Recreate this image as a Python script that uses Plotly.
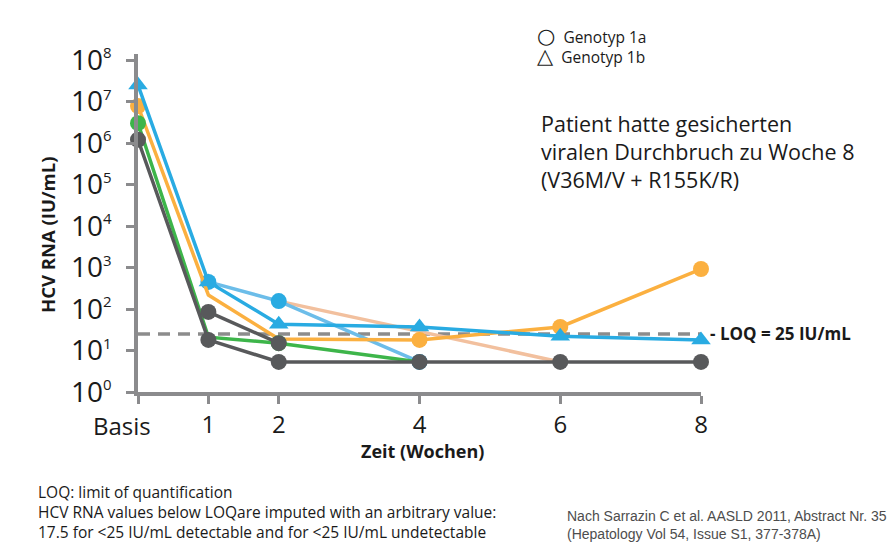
import math
import plotly.graph_objects as go

# ---------------- data ----------------
weeks = [0, 1, 2, 4, 6, 8]
x_tick_labels = ["Basis", "1", "2", "4", "6", "8"]
y_exponents = [0, 1, 2, 3, 4, 5, 6, 7, 8]

blue_1b = [2.5e7, 450, 43, 37, 22, 18]          # Genotyp 1b (triangles)
orange_1a = [7.8e6, 218, 19, 18, 37, 920]       # breakthrough patient
green_1a = [3.0e6, 21, 15, 5.3, None, None]
gray_a_1a = [1.2e6, 18, 5.3, 5.3, 5.3, 5.3]
gray_b_1a = [None, 85, 15, None, None, None]
lightblue_1a = [None, 450, 155, 5.3, None, None]
peach_1a = [None, None, 155, None, 5.3, None]
loq_value = 25
legend_labels = ["Genotyp 1a", "Genotyp 1b"]
legend_symbols = ["○", "△"]

# ---------------- layout helpers ----------------
W, H = 890, 543
L, R, T, B = 138, 701, 54, 392
def px_x(px):
    return (px - L) / (R - L)
def px_y(py):
    return (B - py) / (B - T)

FONT = "Open Sans"
AX = "#8b8b8d"
TXT = "#1a1a1a"

fig = go.Figure()

# LOQ dashed line
fig.add_trace(go.Scatter(x=[weeks[0], weeks[-1]], y=[loq_value, loq_value], mode="lines",
                         line=dict(color="#8c8c8c", width=3.5, dash="12px,8px"),
                         showlegend=False, hoverinfo="skip", cliponaxis=False))

def add_series(vals, color, sizes, symbol="circle", line_color=None, mode="lines+markers", gaps=False):
    fig.add_trace(go.Scatter(
        x=weeks, y=vals, mode=mode, connectgaps=gaps,
        line=dict(color=line_color or color, width=3.5),
        marker=dict(color=color, size=sizes, symbol=symbol, opacity=1, line=dict(width=0)),
        showlegend=False, cliponaxis=False))

add_series(peach_1a, "#f2c09e", 0, mode="lines", gaps=True)
add_series(lightblue_1a, "#29abe2", 16, line_color="#6cbde9")
add_series(orange_1a, "#fbb040", [16, 0, 0, 16, 16, 16])
add_series(green_1a, "#3db54a", [16, 0, 16, 0, 0, 0])
add_series(gray_b_1a, "#58595b", 16)
add_series(gray_a_1a, "#58595b", 16)
add_series(blue_1b, "#29abe2", 17, symbol="triangle-up")

ytext = [f"10<sup><span style='font-size:15px'>{e}</span></sup>" for e in y_exponents]

fig.update_layout(
    width=W, height=H,
    margin=dict(l=L, r=W - R, t=T, b=H - B),
    plot_bgcolor="white", paper_bgcolor="white",
    font=dict(family=FONT, color=TXT),
    showlegend=False,
    xaxis=dict(range=[0, 8], showgrid=False, zeroline=False, showline=True,
               linecolor=AX, linewidth=3.5, ticks="outside", ticklen=8, tickwidth=3,
               tickcolor=AX, tickvals=weeks, ticktext=[""] + x_tick_labels[1:],
               tickfont=dict(size=24, color=TXT), ticklabelstandoff=0),
    yaxis=dict(type="log", range=[0, 8.145], showgrid=False, zeroline=False, showline=True,
               linecolor=AX, linewidth=3.5, ticks="outside", ticklen=8, tickwidth=3,
               tickcolor=AX, tickvals=[10 ** e for e in y_exponents], ticktext=ytext,
               tickfont=dict(size=28, color=TXT), ticklabelstandoff=9),
)

ann = []
# Basis label
ann.append(dict(x=0, y=px_y(425), xref="x", yref="paper", text=x_tick_labels[0], showarrow=False,
                xanchor="center", yanchor="middle", xshift=-16, font=dict(size=24, color=TXT)))
# axis titles
ann.append(dict(x=px_x(422), y=px_y(451), xref="paper", yref="paper", text="<b>Zeit (Wochen)</b>",
                showarrow=False, xanchor="center", yanchor="middle", font=dict(size=18)))
ann.append(dict(x=px_x(47), y=px_y(235), xref="paper", yref="paper", text="<b>HCV RNA (IU/mL)</b>",
                showarrow=False, textangle=-90, xanchor="center", yanchor="middle", font=dict(size=18.5)))
# LOQ label
ann.append(dict(x=8, y=math.log10(loq_value), xref="x", yref="y",
                text="<b>- LOQ = 25 IU/mL</b>", showarrow=False, xanchor="left", yanchor="middle",
                xshift=7, font=dict(size=17, color=TXT)))
# legend (open symbols) as one text block
legend_text = "<br>".join(
    f"<span style='font-family:DejaVu Sans;font-size:21px'>{s}</span>  {lab}"
    for s, lab in zip(legend_symbols, legend_labels))
ann.append(dict(x=px_x(535), y=px_y(46), xref="paper", yref="paper", text=legend_text,
                showarrow=False, xanchor="left", yanchor="middle", align="left",
                font=dict(size=15.5, color=TXT)))
# patient note
ann.append(dict(x=px_x(539), y=px_y(107), xref="paper", yref="paper",
                text="Patient hatte gesicherten<br>viralen Durchbruch zu Woche 8<br>(V36M/V + R155K/R)",
                showarrow=False, xanchor="left", yanchor="top", align="left", font=dict(size=21.5)))
# footnotes
ann.append(dict(x=px_x(36), y=px_y(479), xref="paper", yref="paper",
                text="LOQ: limit of quantification<br>HCV RNA values below LOQare imputed with an arbitrary value:<br>17.5 for <25 IU/mL detectable and for <25 IU/mL undetectable",
                showarrow=False, xanchor="left", yanchor="top", align="left", font=dict(size=15.5)))
ann.append(dict(x=px_x(565), y=px_y(506), xref="paper", yref="paper",
                text="Nach Sarrazin C et al. AASLD 2011, Abstract Nr. 35<br>(Hepatology Vol 54, Issue S1, 377-378A)",
                showarrow=False, xanchor="left", yanchor="top", align="left",
                font=dict(size=14, family="Liberation Sans", color="#4d4d4d")))
fig.update_layout(annotations=ann)

fig.write_html("out.html", config={"displayModeBar": False},
               post_script="document.body.style.margin='0';document.body.style.overflow='hidden';")
